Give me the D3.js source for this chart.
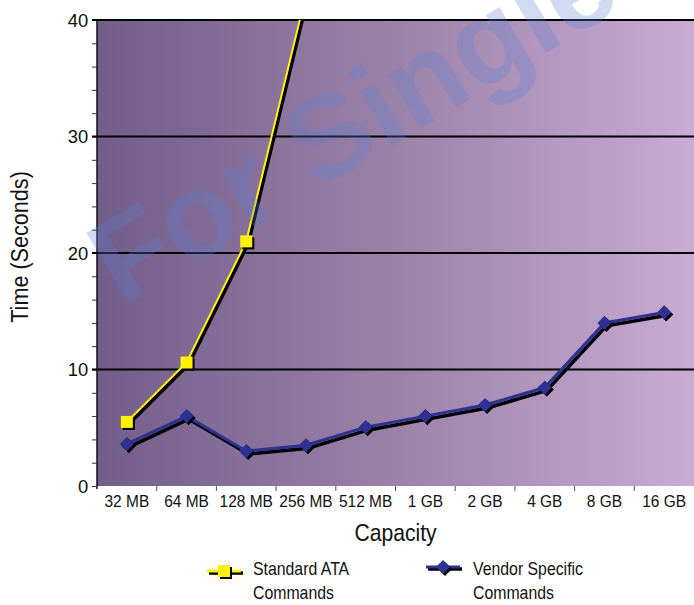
<!DOCTYPE html>
<html>
<head>
<meta charset="utf-8">
<script src="https://cdn.jsdelivr.net/npm/d3@7"></script>
<style>
  html, body { margin: 0; padding: 0; background: #fff; }
  svg { display: block; }
</style>
</head>
<body>
<div id="chart"></div>
<script>
// data
const categories = ["32 MB", "64 MB", "128 MB", "256 MB", "512 MB", "1 GB", "2 GB", "4 GB", "8 GB", "16 GB"];
const ataValues = [5.5, 10.6, 21.0, 42.2];           // runs off the top after 128 MB
const vendorValues = [3.6, 6.0, 3.0, 3.5, 5.05, 6.0, 6.95, 8.45, 14.0, 14.9];
const yMajorTicks = [0, 10, 20, 30, 40];
const seriesNames = [["Standard ATA", "Commands"], ["Vendor Specific", "Commands"]];

const width = 694, height = 605;
// no condensed face available, so squeeze Liberation Sans horizontally
const font = "'Liberation Sans', Arial, Helvetica, sans-serif";
const squeeze = 0.88;
const plotL = 97, plotR = 694, plotT = 20, plotB = 486;
const yellow = "#fff200", blue = "#2e3192";

const svg = d3.select("#chart").append("svg")
    .attr("width", width)
    .attr("height", height);

const defs = svg.append("defs");
const grad = defs.append("linearGradient").attr("id", "bg")
    .attr("x1", 0).attr("x2", 1).attr("y1", 0).attr("y2", 0);
grad.append("stop").attr("offset", 0).attr("stop-color", "#735d8b");
grad.append("stop").attr("offset", 0.5).attr("stop-color", "#9b82a8");
grad.append("stop").attr("offset", 1).attr("stop-color", "#c9abd3");
defs.append("clipPath").attr("id", "plot-clip")
  .append("rect").attr("x", plotL).attr("y", plotT).attr("width", plotR - plotL).attr("height", plotB - plotT);

const x = d3.scaleBand().domain(categories).range([plotL, plotR]);
const y = d3.scaleLinear().domain([0, 40]).range([plotB, plotT]);
const cx = d => x(d) + x.bandwidth() / 2;

// plot background
svg.append("rect")
    .attr("x", plotL).attr("y", plotT)
    .attr("width", plotR - plotL).attr("height", plotB - plotT)
    .attr("fill", "url(#bg)");

// y axis with minor ticks
const yAxis = svg.append("g")
    .attr("transform", `translate(${plotL},0)`)
    .call(d3.axisLeft(y).tickValues(d3.range(0, 41, 2)).tickSize(5).tickPadding(4)
        .tickFormat(d => yMajorTicks.includes(d) ? d : ""));
yAxis.select(".domain").attr("stroke", "#111").attr("stroke-width", 1.5)
    .attr("d", `M0,${plotT}V${plotB + 3}`);
yAxis.selectAll(".tick line").attr("stroke", "#333");
yAxis.selectAll(".tick text")
    .attr("font-family", font).attr("font-size", 19).attr("fill", "#111")
    .attr("transform", "scale(0.97,1)");

// gridlines
svg.append("g").selectAll("line")
  .data(yMajorTicks.filter(d => d > 0))
  .join("line")
    .attr("x1", plotL - 5).attr("x2", plotR)
    .attr("y1", d => y(d)).attr("y2", d => y(d))
    .attr("stroke", "#000").attr("stroke-width", 2);

// x axis: labels centred, ticks on band edges
const xAxis = svg.append("g")
    .attr("transform", `translate(0,${plotB})`)
    .call(d3.axisBottom(x).tickSize(0).tickPadding(9));
xAxis.select(".domain").remove();
xAxis.selectAll(".tick text")
    .attr("font-family", font).attr("font-size", 17).attr("fill", "#111")
    .attr("transform", "scale(0.91,1)");
svg.append("g").selectAll("line")
  .data(categories.slice(1))
  .join("line")
    .attr("x1", d => x(d)).attr("x2", d => x(d))
    .attr("y1", plotB).attr("y2", plotB + 5)
    .attr("stroke", "#555");

// axis titles
svg.append("text")
    .attr("transform", `translate(${(plotL + plotR) / 2},541) scale(${squeeze},1)`)
    .attr("text-anchor", "middle")
    .attr("font-family", font).attr("font-size", 24).attr("fill", "#111")
    .text("Capacity");
svg.append("text")
    .attr("transform", `translate(28,247) rotate(-90) scale(0.9,1)`)
    .attr("text-anchor", "middle")
    .attr("font-family", font).attr("font-size", 24).attr("fill", "#111")
    .text("Time (Seconds)");

// series
const line = d3.line().x(d => cx(d.c)).y(d => y(d.v));
const ata = ataValues.map((v, i) => ({c: categories[i], v}));
const vendor = vendorValues.map((v, i) => ({c: categories[i], v}));
const square = d3.symbol(d3.symbolSquare, 144);
const diamond = d3.symbol(d3.symbolSquare, 100);

const plot = svg.append("g").attr("clip-path", "url(#plot-clip)");

// vendor specific
plot.append("path").datum(vendor)
    .attr("d", line).attr("transform", "translate(2,3)")
    .attr("fill", "none").attr("stroke", "#000").attr("stroke-width", 3.5);
plot.append("path").datum(vendor)
    .attr("d", line)
    .attr("fill", "none").attr("stroke", blue).attr("stroke-width", 3);
plot.append("g").selectAll("path").data(vendor).join("path")
    .attr("d", diamond)
    .attr("transform", d => `translate(${cx(d.c) + 2},${y(d.v) + 2}) rotate(45)`)
    .attr("fill", "#000");
plot.append("g").selectAll("path").data(vendor).join("path")
    .attr("d", diamond)
    .attr("transform", d => `translate(${cx(d.c)},${y(d.v)}) rotate(45)`)
    .attr("fill", blue);

// standard ATA
plot.append("path").datum(ata)
    .attr("d", line).attr("transform", "translate(2,2)")
    .attr("fill", "none").attr("stroke", "#000").attr("stroke-width", 3.5);
plot.append("path").datum(ata)
    .attr("d", line)
    .attr("fill", "none").attr("stroke", yellow).attr("stroke-width", 2);
plot.append("g").selectAll("path").data(ata.filter(d => d.v <= 40)).join("path")
    .attr("d", square)
    .attr("transform", d => `translate(${cx(d.c) + 2},${y(d.v) + 2})`)
    .attr("fill", "#000");
plot.append("g").selectAll("path").data(ata.filter(d => d.v <= 40)).join("path")
    .attr("d", square)
    .attr("transform", d => `translate(${cx(d.c)},${y(d.v)})`)
    .attr("fill", yellow);

// legend
const legend = [
  {x: 207, y: 571, color: yellow, sym: square, rot: 0, tx: 253},
  {x: 426, y: 567, color: blue, sym: diamond, rot: 45, tx: 473}
];
legend.forEach((l, i) => {
  const g = svg.append("g");
  g.append("line").attr("x1", l.x + 2).attr("x2", l.x + 36).attr("y1", l.y + 2).attr("y2", l.y + 2)
      .attr("stroke", "#000").attr("stroke-width", 3.5);
  g.append("line").attr("x1", l.x).attr("x2", l.x + 34).attr("y1", l.y).attr("y2", l.y)
      .attr("stroke", l.color).attr("stroke-width", 3);
  g.append("path").attr("d", l.sym).attr("fill", "#000")
      .attr("transform", `translate(${l.x + 19},${l.y + 2}) rotate(${l.rot})`);
  g.append("path").attr("d", l.sym).attr("fill", l.color)
      .attr("transform", `translate(${l.x + 17},${l.y}) rotate(${l.rot})`);
  g.append("text")
      .attr("transform", `translate(${l.tx},575) scale(${squeeze},1)`)
      .attr("font-family", font).attr("font-size", 18).attr("fill", "#111")
    .selectAll("tspan").data(seriesNames[i]).join("tspan")
      .attr("x", 0).attr("dy", (d, j) => j ? 24 : 0)
      .text(d => d);
});

// watermark
svg.append("text")
    .attr("transform", "translate(122,308) rotate(-31)")
    .attr("font-family", "'Liberation Sans', Arial, sans-serif")
    .attr("font-weight", "bold").attr("font-size", 120)
    .attr("fill", "#5a82d7").attr("fill-opacity", 0.28)
    .text("For Single");
</script>
</body>
</html>
